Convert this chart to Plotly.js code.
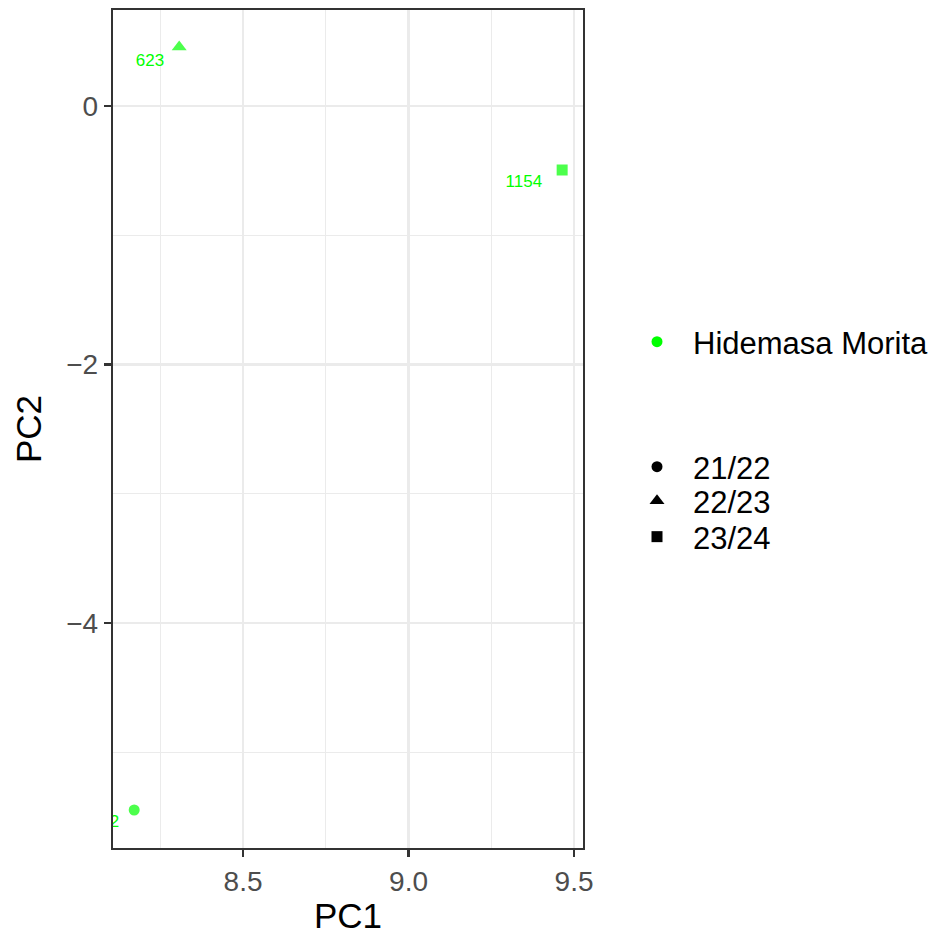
<!DOCTYPE html>
<html>
<head>
<meta charset="utf-8">
<script src="https://cdn.plot.ly/plotly-3.0.1.min.js"></script>
<style>
  html, body { margin: 0; padding: 0; background: #fff; }
  #chart { width: 931px; height: 940px; }
</style>
</head>
<body>
<div id="chart"></div>
<script>
// PCA scores for one player, one point per season
const player = "Hidemasa Morita";
const seasons = ["21/22", "22/23", "23/24"];
const pc1 = [8.171, 8.307, 9.464];
const pc2 = [-5.447, 0.456, -0.495];
const pointLabels = ["412", "623", "1154"];
const seasonSymbols = ["circle", "triangle-up", "square"];

const xTicks = [8.5, 9.0, 9.5];
const xTickText = ["8.5", "9.0", "9.5"];
const yTicks = [0, -2, -4];
const yTickText = ["0", "\u22122", "\u22124"];

const W = 931, H = 940;
const margin = { l: 113, r: 348, t: 10, b: 92, autoexpand: false };
const xRange = [8.107, 9.527];
const yRange = [-5.741, 0.743];

// pixel -> data conversion for nudging the point labels
const plotW = W - margin.l - margin.r;
const plotH = H - margin.t - margin.b;
const xPerPx = (xRange[1] - xRange[0]) / plotW;
const yPerPx = (yRange[1] - yRange[0]) / plotH;
const labelDx = [-15, -15, -20];
const labelDy = [13, 15, 13];

const green = "#00FF00";
const dark = "#333333";
const font = "Liberation Sans, Arial, sans-serif";
const symSize = s => (s === "triangle-up" ? 13 : 11);

const traces = [
  {
    type: "scatter", mode: "markers",
    x: pc1, y: pc2,
    marker: { color: green, size: seasonSymbols.map(symSize), symbol: seasonSymbols, line: { width: 0 } },
    showlegend: false, hoverinfo: "skip", cliponaxis: true
  },
  {
    type: "scatter", mode: "text",
    x: pc1.map((v, i) => v + labelDx[i] * xPerPx),
    y: pc2.map((v, i) => v - labelDy[i] * yPerPx),
    text: pointLabels,
    textposition: "middle left",
    textfont: { family: font, size: 17, color: green },
    showlegend: false, hoverinfo: "skip", cliponaxis: true
  },
  {
    type: "scatter", mode: "markers", x: [null], y: [null],
    name: player, legend: "legend",
    marker: { color: green, size: 11, symbol: "circle" }
  }
];
// one legend box per season entry so each row sits at its own height
const seasonLegendIds = ["legend2", "legend3", "legend4"];
seasons.forEach((s, i) => {
  traces.push({
    type: "scatter", mode: "markers", x: [null], y: [null],
    name: s, legend: seasonLegendIds[i],
    marker: { color: "#000000", size: symSize(seasonSymbols[i]), symbol: seasonSymbols[i] }
  });
});

const axisCommon = {
  showline: true, mirror: true, linecolor: dark, linewidth: 2.2,
  ticks: "outside", ticklen: 7, tickwidth: 2.2, tickcolor: dark,
  showgrid: true, gridcolor: "#EBEBEB", gridwidth: 2.4,
  zeroline: false,
  tickfont: { family: font, size: 28, color: "#4D4D4D" },
  tickmode: "array",
  fixedrange: true
};

// legend symbol sits itemwidth/2 + 5 px from the box's left edge
const itemW = 62;
const legendX = (657 - (itemW / 2 + 5) - margin.l) / plotW;
const legendY = px => (H - margin.b - px) / plotH;
const legendBase = {
  x: legendX, xanchor: "left", yanchor: "middle",
  font: { family: font, size: 31, color: "#000" },
  bgcolor: "rgba(0,0,0,0)", borderwidth: 0, itemwidth: itemW
};

const layout = {
  width: W, height: H,
  margin: margin,
  paper_bgcolor: "#ffffff",
  plot_bgcolor: "#ffffff",
  font: { family: font },
  xaxis: Object.assign({}, axisCommon, {
    range: xRange, tickvals: xTicks, ticktext: xTickText,
    minor: { dtick: 0.25, tick0: 8.25, showgrid: true, gridcolor: "#EBEBEB", gridwidth: 1.2, ticks: "" },
    title: { text: "PC1", font: { family: font, size: 35, color: "#000" }, standoff: 8 }
  }),
  yaxis: Object.assign({}, axisCommon, {
    range: yRange, tickvals: yTicks, ticktext: yTickText,
    minor: { dtick: 1, tick0: 1, showgrid: true, gridcolor: "#EBEBEB", gridwidth: 1.2, ticks: "" },
    title: { text: "PC2", font: { family: font, size: 35, color: "#000" }, standoff: 14 }
  }),
  legend: Object.assign({}, legendBase, { y: legendY(342) }),
  legend2: Object.assign({}, legendBase, { y: legendY(467) }),
  legend3: Object.assign({}, legendBase, { y: legendY(501) }),
  legend4: Object.assign({}, legendBase, { y: legendY(537) }),
  showlegend: true
};

Plotly.newPlot("chart", traces, layout, { displayModeBar: false, staticPlot: true });
</script>
</body>
</html>
